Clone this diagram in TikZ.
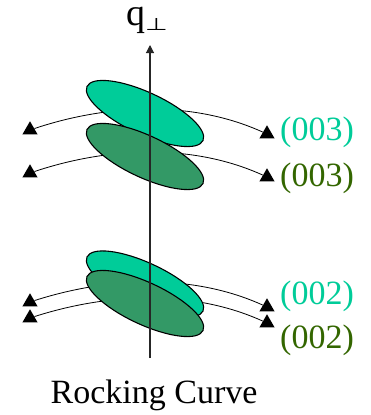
\documentclass[tikz,border=0pt]{standalone}
\usepackage{fontspec}
\setmainfont{Liberation Serif}
\newfontfamily\perpfont{DejaVu Sans}
\usetikzlibrary{shapes.geometric,arrows.meta}
\definecolor{lightg}{HTML}{00CC99}
\definecolor{darkg}{HTML}{339966}
\definecolor{lightt}{HTML}{00CC99}
\definecolor{darkt}{HTML}{336600}
\tikzset{
  spot/.style={ellipse, draw=black, line width=1.1pt, minimum width=128pt, minimum height=42pt, inner sep=0pt, rotate=-25},
  tri/.style={regular polygon, regular polygon sides=3, fill=black, minimum size=17.5pt, inner sep=0pt},
  rock/.style={draw=black, line width=0.8pt},
  lbl/.style={anchor=base west, inner sep=0pt, font=\fontsize{34}{40}\selectfont},
}
\begin{document}
\begin{tikzpicture}[x=1pt, y=-1pt]
\useasboundingbox (0,0) rectangle (371,415);
% arrowheads
\node[tri] (a1l) at (30,130) {};
\node[tri] (a1r) at (267,134) {};
\node[tri] (a2l) at (30,173) {};
\node[tri] (a2r) at (267,177) {};
\node[tri] (b1l) at (30,302) {};
\node[tri] (b1r) at (267,307) {};
\node[tri] (b2l) at (30,318) {};
\node[tri] (b2r) at (267,323) {};
% rocking arcs
\draw[rock] (a1l) .. controls (108,104) and (192,100) .. (a1r);
\draw[rock] (a2l) .. controls (108,147) and (192,143) .. (a2r);
\draw[rock] (b1l) .. controls (108,277) and (192,273) .. (b1r);
\draw[rock] (b2l) .. controls (108,293) and (192,289) .. (b2r);
% spots
\node[spot, fill=lightg] (l3) at (145,113.5) {};
\node[spot, fill=darkg] (d3) at (145,156.5) {};
\node[spot, fill=lightg] (l2) at (145,284) {};
\node[spot, fill=darkg] (d2) at (145,303.5) {};
% axis
\coordinate (ax0) at (150,358);
\coordinate (ax1) at (150,45);
\draw[line width=1.1pt, black!85, -{Triangle[length=8pt,width=8pt]}] (ax0) -- (ax1);
% labels
\node[anchor=base west, inner sep=0pt, text height=18pt, font=\fontsize{38}{44}\selectfont] (q) at (126,25) {q\raisebox{-5pt}{\scalebox{1}[0.66]{\perpfont\fontsize{26}{26}\selectfont ⊥}}};
\node[lbl, text=lightt] (t1) at (280,140) {(003)};
\node[lbl, text=darkt] (t2) at (280,186) {(003)};
\node[lbl, text=lightt] (t3) at (280,304) {(002)};
\node[lbl, text=darkt] (t4) at (280,348) {(002)};
\node[anchor=base, inner sep=0pt, font=\fontsize{34}{40}\selectfont] (rc) at (154,403) {Rocking Curve};
\end{tikzpicture}
\end{document}
